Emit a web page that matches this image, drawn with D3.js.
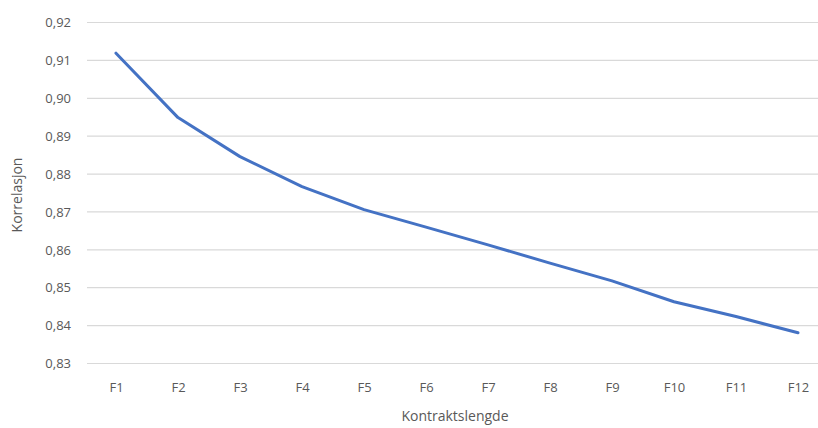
<!DOCTYPE html>
<html>
<head>
<meta charset="utf-8">
<script src="https://cdn.jsdelivr.net/npm/d3@7"></script>
<style>
  html, body { margin: 0; padding: 0; background: #fff; }
  svg { display: block; font-family: "Open Sans", "Liberation Sans", sans-serif; }
</style>
</head>
<body>
<svg id="chart" width="818" height="428"></svg>
<script>
// Korrelasjon per kontraktslengde
const categories = ["F1", "F2", "F3", "F4", "F5", "F6", "F7", "F8", "F9", "F10", "F11", "F12"];
const korrelasjon = [0.9119, 0.8949, 0.8846, 0.8767, 0.8706, 0.8660, 0.8613, 0.8565, 0.8518, 0.8463, 0.8424, 0.8381];
const yTicks = [0.83, 0.84, 0.85, 0.86, 0.87, 0.88, 0.89, 0.90, 0.91, 0.92];

const svg = d3.select("#chart");
const plot = { left: 85, right: 829, top: 22.5, bottom: 363.5 };

const x = d3.scalePoint().domain(categories).range([plot.left, plot.right]).padding(0.5);
const y = d3.scaleLinear().domain([0.83, 0.92]).range([plot.bottom, plot.top]);
const fmt = v => d3.format(".2f")(v).replace(".", ",");

// horizontal gridlines
svg.append("g")
  .selectAll("line")
  .data(yTicks)
  .join("line")
  .attr("x1", 87).attr("x2", 818)
  .attr("y1", d => y(d)).attr("y2", d => y(d))
  .attr("stroke", "#d9d9d9").attr("stroke-width", 1.2);

// y axis labels
const yAxis = d3.axisLeft(y).tickValues(yTicks).tickFormat(fmt).tickSize(0).tickPadding(0);
svg.append("g")
  .attr("transform", "translate(71,0)")
  .call(yAxis)
  .call(g => g.select(".domain").remove())
  .selectAll("text")
  .attr("font-size", 13).attr("fill", "#595959")
  .attr("font-family", "'Open Sans', 'Liberation Sans', sans-serif");

// x axis labels
const xAxis = d3.axisBottom(x).tickSize(0).tickPadding(0);
svg.append("g")
  .attr("transform", "translate(0,383)")
  .call(xAxis)
  .call(g => g.select(".domain").remove())
  .selectAll("text")
  .attr("font-size", 13).attr("fill", "#595959")
  .attr("font-family", "'Open Sans', 'Liberation Sans', sans-serif");

// data line
const line = d3.line()
  .x((d, i) => x(categories[i]))
  .y(d => y(d));
svg.append("path")
  .datum(korrelasjon)
  .attr("d", line)
  .attr("fill", "none")
  .attr("stroke", "#4472c4")
  .attr("stroke-width", 3)
  .attr("stroke-linejoin", "round")
  .attr("stroke-linecap", "round");

// axis titles
svg.append("text")
  .attr("x", 455).attr("y", 421)
  .attr("text-anchor", "middle")
  .attr("font-size", 14).attr("fill", "#595959")
  .text("Kontraktslengde");

svg.append("text")
  .attr("transform", "translate(22,195) rotate(-90)")
  .attr("text-anchor", "middle")
  .attr("font-size", 14).attr("fill", "#595959")
  .text("Korrelasjon");
</script>
</body>
</html>
